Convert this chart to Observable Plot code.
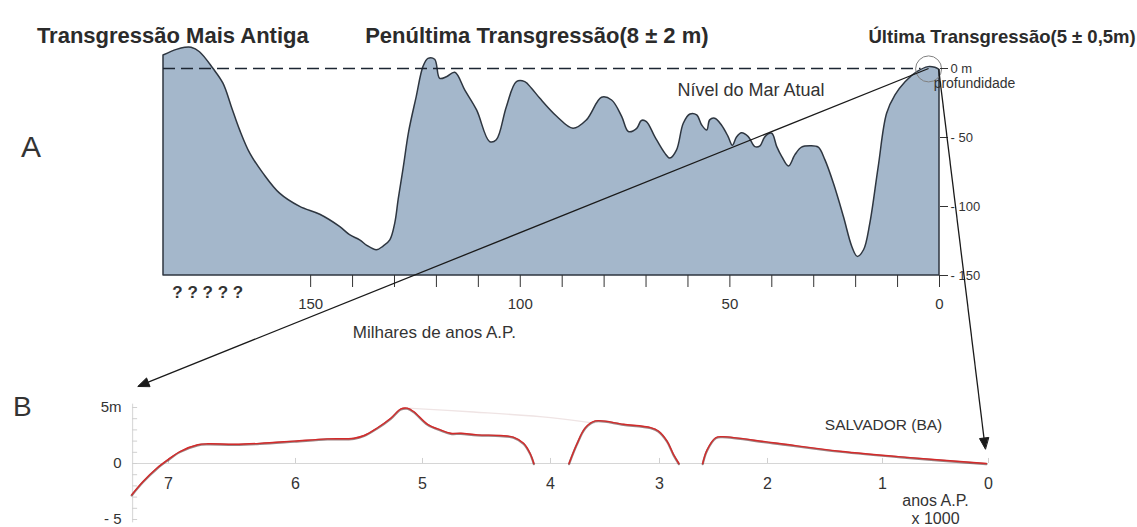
<!DOCTYPE html>
<html>
<head>
<meta charset="utf-8">
<script src="https://cdn.jsdelivr.net/npm/d3@7"></script>
<script src="https://cdn.jsdelivr.net/npm/@observablehq/plot@0.6"></script>
<style>
  html, body { margin: 0; padding: 0; background: #fff; }
  #chart { position: relative; width: 1137px; height: 527px; overflow: hidden; }
  #chart svg { position: absolute; left: 0; top: 0; }
</style>
</head>
<body>
<div id="chart"></div>
<script>
// ---- Panel A: sea level (depth, m) over the last ~185 thousand years ----
const kaA = [185.1, 181.9, 179.9, 178.4, 176.4, 173.2, 170.8, 168.8, 166.8, 164.4, 161.3, 157.3,
  152.5, 147.7, 143, 140.6, 138.2, 136.5, 134.2, 132.6, 131, 129.8, 129, 127.8, 126.5, 124.7,
  123.1, 121.9, 120.3, 119.1, 117.5, 115.5, 113.1, 110.3, 107.2, 105.6, 103.2, 100.8, 98.8,
  97.2, 95.2, 91.2, 87.3, 84.1, 80.5, 78.1, 75.7, 74.1, 72.1, 71, 69.8, 67.8, 65.4, 64.2, 62.6,
  61, 59.4, 57.8, 56.6, 55.4, 54.7, 53.5, 51.9, 50.3, 49.3, 48.3, 47.1, 45.5, 43.9, 42.7, 41.5,
  39.9, 38.7, 37.5, 35.9, 34.4, 32.8, 30.8, 28.8, 27.2, 25.2, 22.8, 20.8, 19.5, 18, 16.5, 14.5,
  12.5, 10.5, 8.1, 5.3, 2.6, 1, 0];
const depthA = [-9.4, -13.5, -15, -15, -11.8, 0.2, 11, 28, 45, 61.7, 76, 90.7,
  100.3, 106, 114.8, 120.8, 124.5, 128.5, 131.7, 129, 124.5, 112, 95, 72, 46, 20.7,
  -1, -7, -6.3, 7.5, 6.3, 3.1, 16, 30.4, 53.3, 52, 28, 9.9, 9.9,
  14.7, 22, 35, 43.7, 37.6, 21.2, 23.2, 35, 46, 43.7, 38, 38.8, 49.7, 61.7, 65.3, 59.3,
  40, 33.3, 34, 41.3, 44.9, 37.6, 36.4, 41.3, 49.7, 56, 50, 47, 49.7, 57, 56.4, 49.7,
  47.3, 57, 64.2, 71, 63, 57.4, 56.4, 57.4, 66.6, 83.4, 107.6, 129.3, 136.5, 131.7, 112.4, 71.4,
  32.8, 19.5, 9.9, 2.7, -1, -0.5, 1];
const ticksA = [0, 10, 20, 30, 40, 50, 60, 70, 80, 90, 100, 110, 120, 130, 140, 150];
const depthTicksA = [0, 50, 100, 150];

// ---- Panel B: Salvador (BA) relative sea level, last 7 000 years ----
const kaB1 = [7.29, 7.2, 7.09, 7.01, 6.91, 6.77, 6.69, 6.48, 6.28, 6.01, 5.75, 5.54, 5.46, 5.36,
  5.25, 5.17, 5.12, 5.07, 4.96, 4.86, 4.78, 4.7, 4.57, 4.39, 4.29, 4.21, 4.16, 4.13];
const levelB1 = [-2.8, -1.6, -0.4, 0.3, 1.07, 1.67, 1.76, 1.72, 1.8, 2.0, 2.2, 2.26, 2.5, 3.15,
  4.04, 4.88, 4.94, 4.64, 3.5, 3.0, 2.7, 2.7, 2.56, 2.5, 2.35, 1.8, 0.92, 0];
const kaB2 = [3.83, 3.76, 3.68, 3.59, 3.33, 3.08, 3.01, 2.93, 2.87, 2.82];
const levelB2 = [0, 1.7, 3.2, 3.8, 3.5, 3.2, 2.9, 2.0, 0.8, 0];
const kaB3 = [2.6, 2.56, 2.48, 2.42, 1.95, 1.37, 0.77, 0.02];
const levelB3 = [0, 1.2, 2.3, 2.4, 1.85, 1.1, 0.55, 0];
const kaEnvelope = [5.12, 4.6, 4.0, 3.6];
const levelEnvelope = [4.95, 4.6, 4.1, 3.6];
const ticksB = [0, 1, 2, 3, 4, 5, 6, 7];
const levelTicksB = [-5, 0, 5];
const minorTicksB = [-5, -4, -3, -2, -1, 0, 1, 2, 3, 4, 5];

// ---- Labels ----
const titles = ["Transgressão Mais Antiga", "Penúltima Transgressão(8 ± 2 m)", "Última Transgressão(5 ± 0,5m)"];
const seaLevelLabel = "Nível do Mar Atual";
const depthLabel = "profundidade";
const unknownLabel = "? ? ? ? ?";
const xTitleA = "Milhares de anos A.P.";
const siteLabel = "SALVADOR (BA)";
const xTitleB = "anos A.P.\nx 1000";
const panelLetters = ["A", "B"];

// Zoom arrows: from the present-day end of panel A to the ends of panel B
const arrowFromKa = [2.6, 0.2];
const arrowFromDepth = [0, 0.5];
const arrowToKa = [7.24, 0.03];
const arrowToLevel = [6.9, 1.3];

const W = 1137, H = 527;
const FONT = "'Liberation Sans', Arial, Helvetica, sans-serif";
const INK = "#2b2b2b";
const svgStyle = {background: "transparent", overflow: "visible", fontFamily: FONT, color: INK};

// Scale options shared by the panels and the arrows overlay
const xA = {type: "linear", domain: [185.1, 0], range: [163, 939]};
const yA = {type: "linear", domain: [0, 150], range: [68, 275]};
// hand-drawn time axis of panel B: piecewise-linear spacing between the thousands
const xB = {type: "linear", domain: [7, 6, 5, 4, 3, 2, 1, 0], range: [168, 295, 422, 550, 659, 767, 882, 988]};
const yB = {type: "linear", domain: [0, 5], range: [463, 407]};
const axisB = 7.283; // left edge of panel B

const seaA = kaA.map((k, i) => ({ka: k, depth: depthA[i]}));
const segB = [
  ...kaB1.map((k, i) => ({ka: k, level: levelB1[i], seg: 1})),
  ...kaB2.map((k, i) => ({ka: k, level: levelB2[i], seg: 2})),
  ...kaB3.map((k, i) => ({ka: k, level: levelB3[i], seg: 3}))
];
const envB = kaEnvelope.map((k, i) => ({ka: k, level: levelEnvelope[i]}));

const plotA = Plot.plot({
  width: W, height: H,
  marginLeft: 163, marginRight: W - 939, marginTop: 68, marginBottom: H - 275,
  style: svgStyle,
  x: {...xA, axis: null, label: null},
  y: {...yA, axis: null, label: null},
  marks: [
    Plot.areaY(seaA, {x: "ka", y1: 150, y2: "depth", curve: "catmull-rom",
      fill: "#a4b7cb", stroke: "#2e3640", strokeWidth: 1.5}),
    Plot.ruleY([0], {x1: 185.1, x2: 4.4, stroke: "#1c2633", strokeWidth: 1.5, strokeDasharray: "12,6"}),
    Plot.dot([{ka: 2.6, depth: 0.3}], {x: "ka", y: "depth", r: 13, stroke: "#808080", strokeWidth: 1, fill: "none"}),
    Plot.axisX(ticksA, {anchor: "bottom", tickSize: 12, tickPadding: 11, fontSize: 15, color: "#333",
      tickFormat: d => (d % 50 === 0 ? d : ""), label: null}),
    Plot.axisY(depthTicksA, {anchor: "right", tickSize: 8, tickPadding: 3, fontSize: 13, color: "#333",
      tickFormat: d => (d === 0 ? "0 m" : "- " + d), label: null}),
    Plot.text([titles[0]], {x: 215.3, y: -23.9, text: d => d, textAnchor: "start", fontSize: 22, fontWeight: "bold", fill: INK}),
    Plot.text([titles[1]], {x: 137, y: -23.9, text: d => d, textAnchor: "start", fontSize: 22, fontWeight: "bold", fill: INK}),
    Plot.text([titles[2]], {x: -46.8, y: -23, text: d => d, textAnchor: "end", fontSize: 18.5, fontWeight: "bold", fill: INK}),
    Plot.text([seaLevelLabel], {x: 62.5, y: 15.9, text: d => d, textAnchor: "start", fontSize: 18, fill: "#333"}),
    Plot.text([depthLabel], {x: 1.4, y: 11, text: d => d, textAnchor: "start", fontSize: 14, fill: "#333"}),
    Plot.text([unknownLabel], {x: 183, y: 162.3, text: d => d, textAnchor: "start", fontSize: 17, fontWeight: "bold", fill: "#333"}),
    Plot.text([xTitleA], {x: 120.5, y: 191.3, text: d => d, fontSize: 17, fill: "#333"}),
    Plot.text([panelLetters[0]], {x: 216.7, y: 57.2, text: d => d, fontSize: 30, fill: "#333"})
  ]
});

const plotB = Plot.plot({
  width: W, height: H,
  marginLeft: 132, marginRight: 0, marginTop: 300, marginBottom: H - 463,
  style: svgStyle,
  x: {...xB, axis: null, label: null},
  y: {...yB, axis: null, label: null},
  marks: [
    Plot.ruleY([0], {x1: axisB, x2: 0, stroke: "#d6d6d6", strokeWidth: 1.2}),
    Plot.ruleX(ticksB, {y1: 0, y2: 0.45, stroke: "#d0d0d0"}),
    Plot.ruleX([axisB], {y1: -5.3, y2: 5.3, stroke: "#dadada", strokeWidth: 1.2}),
    Plot.ruleY(minorTicksB, {x1: axisB, x2: axisB - 0.04, stroke: "#d0d0d0"}),
    Plot.line(envB, {x: "ka", y: "level", curve: "catmull-rom", stroke: "#efe4e4", strokeWidth: 1.3}),
    Plot.line(segB, {x: "ka", y: "level", z: "seg", curve: "catmull-rom", stroke: "#4a1c1c", strokeWidth: 2.2, strokeOpacity: 0.55, dy: 0.6}),
    Plot.line(segB, {x: "ka", y: "level", z: "seg", curve: "catmull-rom", stroke: "#d42a2a", strokeWidth: 1.4}),
    Plot.axisX(ticksB, {anchor: "bottom", tickSize: 0, tickPadding: 14, fontSize: 16, color: "#333",
      tickFormat: d => String(d), label: null}),
    Plot.axisY(levelTicksB, {anchor: "left", tickSize: 0, tickPadding: 11, fontSize: 15, color: "#333",
      tickFormat: d => (d === 5 ? "5m" : d === 0 ? "0" : "- 5"), label: null}),
    Plot.text([siteLabel], {x: 0.99, y: 3.4, text: d => d, fontSize: 15.5, fill: "#333"}),
    Plot.text([xTitleB], {x: 0.5, y: -4.1, text: d => d, fontSize: 16, lineHeight: 1.1, fill: "#333"}),
    Plot.text([panelLetters[1]], {x: 8.15, y: 5.0, text: d => d, fontSize: 28, fill: "#333"})
  ]
});

// Standalone scales (same options as the panels) to join the two panels with arrows
function scaleOf(opts) {
  try {
    const s = Plot.scale({x: opts});
    if (s && typeof s.apply === "function" && Number.isFinite(s.apply(opts.domain[0]))) return v => s.apply(v);
  } catch (e) { /* fall back to d3 */ }
  return d3.scaleLinear(opts.domain, opts.range);
}
const sxA = scaleOf(xA), syA = scaleOf(yA), sxB = scaleOf(xB), syB = scaleOf(yB);

const headLen = 11, headHalf = 4.5;
const arrows = arrowFromKa.map((k, i) => {
  const x1 = sxA(k), y1 = syA(arrowFromDepth[i]);
  const tx = sxB(arrowToKa[i]), ty = syB(arrowToLevel[i]);
  const len = Math.hypot(tx - x1, ty - y1);
  const ux = (tx - x1) / len, uy = (ty - y1) / len;
  const bx = tx - ux * headLen, by = ty - uy * headLen;
  return {id: i, x1, y1, x2: bx, y2: by,
    head: [[tx, ty], [bx - uy * headHalf, by + ux * headHalf], [bx + uy * headHalf, by - ux * headHalf]]};
});
const heads = arrows.flatMap(a => a.head.map(([x, y]) => ({id: a.id, x, y})));

const overlay = Plot.plot({
  width: W, height: H, margin: 0,
  style: svgStyle,
  x: {type: "identity", axis: null},
  y: {type: "identity", axis: null},
  marks: [
    Plot.link(arrows, {x1: "x1", y1: "y1", x2: "x2", y2: "y2", stroke: "#1a1a1a", strokeWidth: 1.3}),
    Plot.line(heads, {x: "x", y: "y", z: "id", fill: "#1a1a1a", stroke: "#1a1a1a", strokeWidth: 1, curve: "linear-closed"})
  ]
});

const chart = document.getElementById("chart");
chart.append(plotA, plotB, overlay);
</script>
</body>
</html>
